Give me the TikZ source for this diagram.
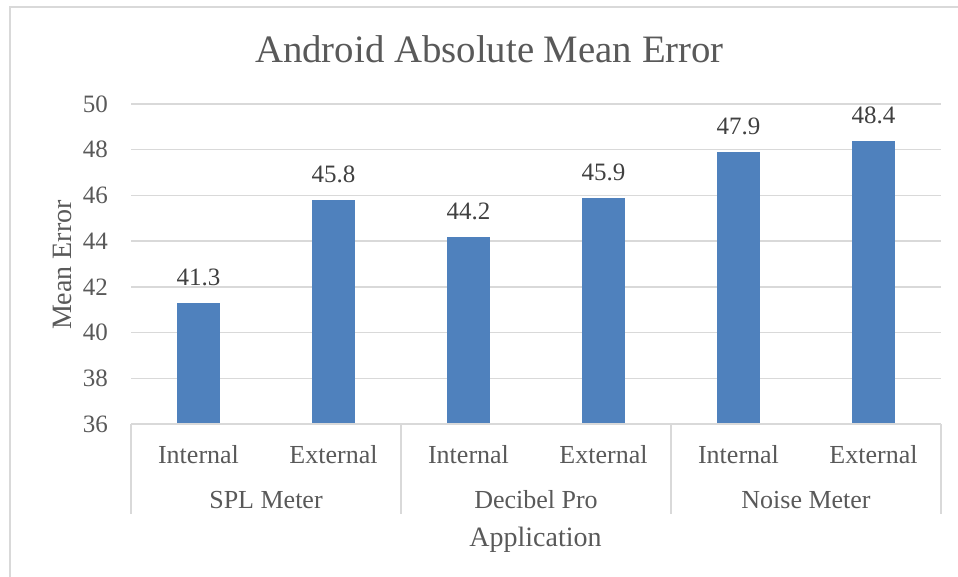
\documentclass[tikz,border=0pt]{standalone}
\usepackage{fontspec}
\setmainfont{Liberation Serif}
\usepackage{tikz}
\usetikzlibrary{calc}
\definecolor{barblue}{HTML}{4F81BD}
\definecolor{gridgray}{HTML}{D9D9D9}
\definecolor{txtgray}{HTML}{595959}
\definecolor{lblgray}{HTML}{404040}

\begin{document}
\begin{tikzpicture}[x=1pt,y=-1pt,
  grid/.style={gridgray,line width=1.5pt},
  ticklbl/.style={text=txtgray,inner sep=0pt,anchor=east,font=\fontsize{25}{30}\selectfont},
  catlbl/.style={text=txtgray,inner sep=0pt,anchor=base,font=\fontsize{26}{30}\selectfont},
  vallbl/.style={text=lblgray,inner sep=0pt,anchor=base,font=\fontsize{25}{30}\selectfont},
  axtitle/.style={text=txtgray,inner sep=0pt,anchor=base,font=\fontsize{28}{32}\selectfont}]
\useasboundingbox (0,0) rectangle (958,577);
\draw[grid] (10,577) -- (10,7) -- (958,7);
% title
\node[text=txtgray,inner sep=0pt,anchor=base,font=\fontsize{38.8}{44}\selectfont] (title) at (489.5,63) {Android Absolute Mean Error};
% gridlines and tick labels
\foreach \v in {36,38,...,50}{
  \draw[grid] (131,{424-(\v-36)*22.857}) -- (941,{424-(\v-36)*22.857});
  \node[ticklbl] (tick\v) at (108,{424-(\v-36)*22.857}) {\v};
}
% bars
\foreach \v [count=\i] in {41.3,45.8,44.2,45.9,47.9,48.4}{
  \fill[barblue] ({131+(\i-0.5)*135-21.5},424) rectangle ({131+(\i-0.5)*135+21.5},{424-(\v-36)*22.857});
  \node[vallbl] (val\i) at ({131+(\i-0.5)*135},{424-(\v-36)*22.857-17}) {\v};
}
% category axis
\draw[grid] (131,424) -- (941,424);
\foreach \x in {131,401,671,941}
  \draw[grid] (\x,424) -- (\x,514);
\foreach \i in {1,3,5}{
  \node[catlbl] (int\i) at ({131+(\i-0.5)*135},463) {Internal};
  \node[catlbl] (ext\i) at ({131+(\i+0.5)*135},463) {External};
}
\node[catlbl] (spl) at (266,508) {SPL Meter};
\node[catlbl] (dec) at (536,508) {Decibel Pro};
\node[catlbl] (noise) at (806,508) {Noise Meter};
% axis titles
\node[axtitle] (xtitle) at (535.5,546) {Application};
\node[axtitle,rotate=90] (ytitle) at (71,265) {Mean Error};
\end{tikzpicture}
\end{document}
